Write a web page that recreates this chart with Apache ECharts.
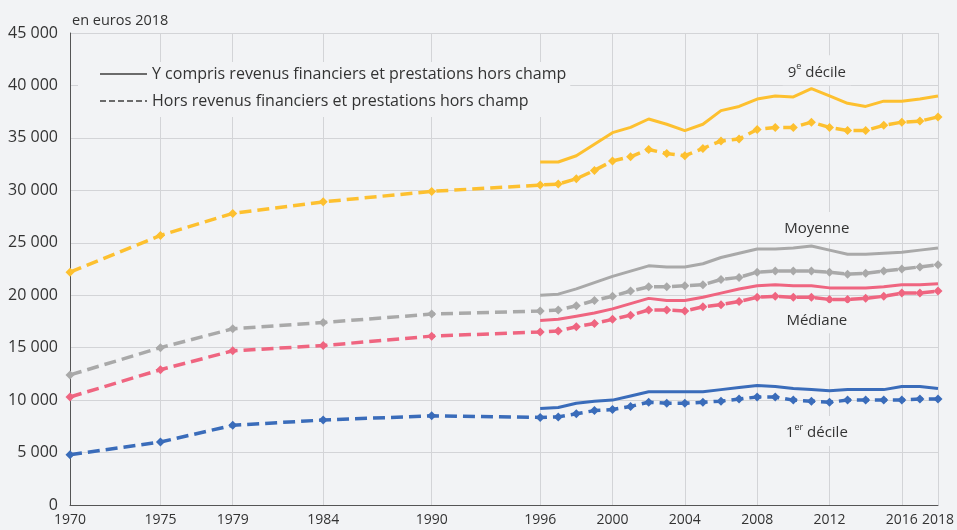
<!DOCTYPE html>
<html>
<head>
<meta charset="utf-8">
<script src="https://cdn.jsdelivr.net/npm/echarts@6/dist/echarts.min.js"></script>
<style>
  html, body { margin: 0; padding: 0; background: #f2f3f5; }
  #chart { width: 957px; height: 530px; }
</style>
</head>
<body>
<div id="chart"></div>
<script>
// Years shown on the horizontal axis (also used for the vertical grid lines)
const tickYears = [1970, 1975, 1979, 1984, 1990, 1996, 2000, 2004, 2008, 2012, 2016, 2018];

// Long series (excluding financial income) : sparse before 1996, yearly afterwards
const yearsLong = [1970, 1975, 1979, 1984, 1990,
  1996, 1997, 1998, 1999, 2000, 2001, 2002, 2003, 2004, 2005, 2006, 2007,
  2008, 2009, 2010, 2011, 2012, 2013, 2014, 2015, 2016, 2017, 2018];
// Series including financial income : yearly from 1996
const yearsRecent = [1996, 1997, 1998, 1999, 2000, 2001, 2002, 2003, 2004, 2005, 2006, 2007,
  2008, 2009, 2010, 2011, 2012, 2013, 2014, 2015, 2016, 2017, 2018];

// 9e décile
const d9Hors = [22200, 25700, 27800, 28900, 29900,
  30500, 30600, 31100, 31900, 32800, 33200, 33900, 33500, 33300, 34000, 34700, 34900,
  35800, 36000, 36000, 36500, 36000, 35700, 35700, 36200, 36500, 36600, 37000];
const d9Total = [32700, 32700, 33300, 34400, 35500, 36000, 36800, 36300, 35700, 36300, 37600, 38000,
  38700, 39000, 38900, 39700, 39000, 38300, 38000, 38500, 38500, 38700, 39000];

// Moyenne
const moyHors = [12400, 15000, 16800, 17400, 18200,
  18500, 18600, 19000, 19500, 19900, 20400, 20800, 20800, 20900, 21000, 21500, 21700,
  22200, 22300, 22300, 22300, 22200, 22000, 22100, 22300, 22500, 22700, 22900];
const moyTotal = [20000, 20100, 20600, 21200, 21800, 22300, 22800, 22700, 22700, 23000, 23600, 24000,
  24400, 24400, 24500, 24700, 24300, 23900, 23900, 24000, 24100, 24300, 24500];

// Médiane
const medHors = [10300, 12900, 14700, 15200, 16100,
  16500, 16600, 17000, 17300, 17700, 18100, 18600, 18600, 18500, 18900, 19100, 19400,
  19800, 19900, 19800, 19800, 19600, 19600, 19700, 19900, 20200, 20200, 20400];
const medTotal = [17600, 17700, 18000, 18300, 18700, 19200, 19700, 19500, 19500, 19800, 20200, 20600,
  20900, 21000, 20900, 20900, 20700, 20700, 20700, 20800, 21000, 21000, 21100];

// 1er décile
const d1Hors = [4800, 6000, 7600, 8100, 8500,
  8350, 8400, 8700, 9000, 9100, 9400, 9800, 9700, 9700, 9800, 9900, 10100,
  10300, 10300, 10000, 9900, 9800, 10000, 10000, 10000, 10000, 10100, 10100];
const d1Total = [9200, 9300, 9700, 9900, 10000, 10400, 10800, 10800, 10800, 10800, 11000, 11200,
  11400, 11300, 11100, 11000, 10900, 11000, 11000, 11000, 11300, 11300, 11100];

// Series captions and where they sit (year, value)
const captionTexts = ['{t|9}{s|e}{t| décile}', '{t|Moyenne}', '{t|Médiane}', '{t|1}{s|er}{t| décile}'];
const captionYears = [2011.3, 2011.3, 2011.3, 2011.3];
const captionValues = [41450, 26500, 17800, 7050];

const legendWith = 'Y compris revenus financiers et prestations hors champ';
const legendWithout = 'Hors revenus financiers et prestations hors champ';

const colors = ['#fdc02f', '#a9a9a9', '#ef6580', '#3a6cba'];
const BG = '#f2f3f5';
const TEXT = '#333333';
const FONT = '"Open Sans", "Noto Sans", sans-serif';

const zip = (xs, ys) => xs.map((x, i) => [x, ys[i]]);

const groups = [
  { hors: d9Hors, total: d9Total },
  { hors: moyHors, total: moyTotal },
  { hors: medHors, total: medTotal },
  { hors: d1Hors, total: d1Total }
];

const series = [];
groups.forEach((g, i) => {
  series.push({
    type: 'line',
    data: zip(yearsRecent, g.total),
    symbol: 'none',
    lineStyle: { color: colors[i], width: 3 },
    itemStyle: { color: colors[i] },
    z: 3,
    silent: true
  });
  series.push({
    type: 'line',
    data: zip(yearsLong, g.hors),
    symbol: 'diamond',
    symbolSize: 9,
    showSymbol: true,
    lineStyle: { color: colors[i], width: 3.5, type: [12, 6] },
    itemStyle: { color: colors[i] },
    z: 3,
    silent: true,
    markPoint: {
      z: 6,
      symbol: 'rect',
      symbolSize: 0,
      silent: true,
      data: [{
        coord: [captionYears[i], captionValues[i]],
        label: {
          show: true,
          position: 'inside',
          formatter: captionTexts[i],
          backgroundColor: BG,
          padding: [7, 5, 3, 5],
          rich: {
            t: { fontSize: 15, color: TEXT, fontFamily: FONT, lineHeight: 20 },
            s: { fontSize: 9, color: TEXT, fontFamily: FONT, lineHeight: 10, verticalAlign: 'top' }
          }
        }
      }]
    }
  });
});

// Vertical grid lines at the labelled years
series.push({
  type: 'line',
  data: [],
  silent: true,
  markLine: {
    z: 1,
    silent: true,
    symbol: 'none',
    label: { show: false },
    lineStyle: { color: '#d3d4d7', width: 1, type: 'solid' },
    data: tickYears.slice(1).map(y => ({ xAxis: y }))
  }
});

// Legend-only series (grey solid / grey dashed)
series.push({
  name: legendWith, type: 'line', data: [], symbol: 'circle',
  lineStyle: { color: '#6b6b6b', width: 2.5, type: 'solid', opacity: 1 }, itemStyle: { color: '#6b6b6b' }
});
series.push({
  name: legendWithout, type: 'line', data: [], symbol: 'circle',
  lineStyle: { color: '#6b6b6b', width: 2.5, type: [6, 3], opacity: 1 }, itemStyle: { color: '#6b6b6b' }
});

const chart = echarts.init(document.getElementById('chart'), null, { renderer: 'canvas' });
chart.setOption({
  backgroundColor: BG,
  animation: false,
  title: {
    text: 'en euros 2018',
    left: 67,
    top: 8,
    textStyle: { fontSize: 14.5, fontWeight: 'normal', color: TEXT, fontFamily: FONT }
  },
  legend: {
    data: [legendWith, legendWithout],
    orient: 'vertical',
    left: 78,
    top: 62,
    padding: [4, 4, 8, 21],
    backgroundColor: BG,
    itemWidth: 47,
    itemHeight: 14,
    itemGap: 11,
    selectedMode: false,
    // markers hidden: only the solid / dashed line stays in each entry
    itemStyle: { opacity: 0 },
    lineStyle: { opacity: 1 },
    textStyle: { fontSize: 16, color: TEXT, fontFamily: FONT }
  },
  grid: { left: 70, right: 19, top: 33, bottom: 25, containLabel: false },
  xAxis: {
    type: 'value',
    min: 1970,
    max: 2018,
    axisLine: { show: true, lineStyle: { color: '#555555', width: 1 } },
    axisTick: { show: false },
    splitLine: { show: false },
    axisLabel: {
      customValues: tickYears,
      color: TEXT,
      fontSize: 14,
      fontFamily: FONT,
      margin: 8,
      formatter: v => String(v)
    }
  },
  yAxis: {
    type: 'value',
    min: 0,
    max: 45000,
    interval: 5000,
    axisLine: { show: true, lineStyle: { color: '#555555', width: 1 } },
    axisTick: { show: false },
    splitLine: { show: true, lineStyle: { color: '#d3d4d7', width: 1 } },
    axisLabel: {
      color: TEXT,
      fontSize: 16,
      fontFamily: FONT,
      margin: 12,
      formatter: v => String(v).replace(/\B(?=(\d{3})+(?!\d))/g, ' ')
    }
  },
  series: series
});
</script>
</body>
</html>
